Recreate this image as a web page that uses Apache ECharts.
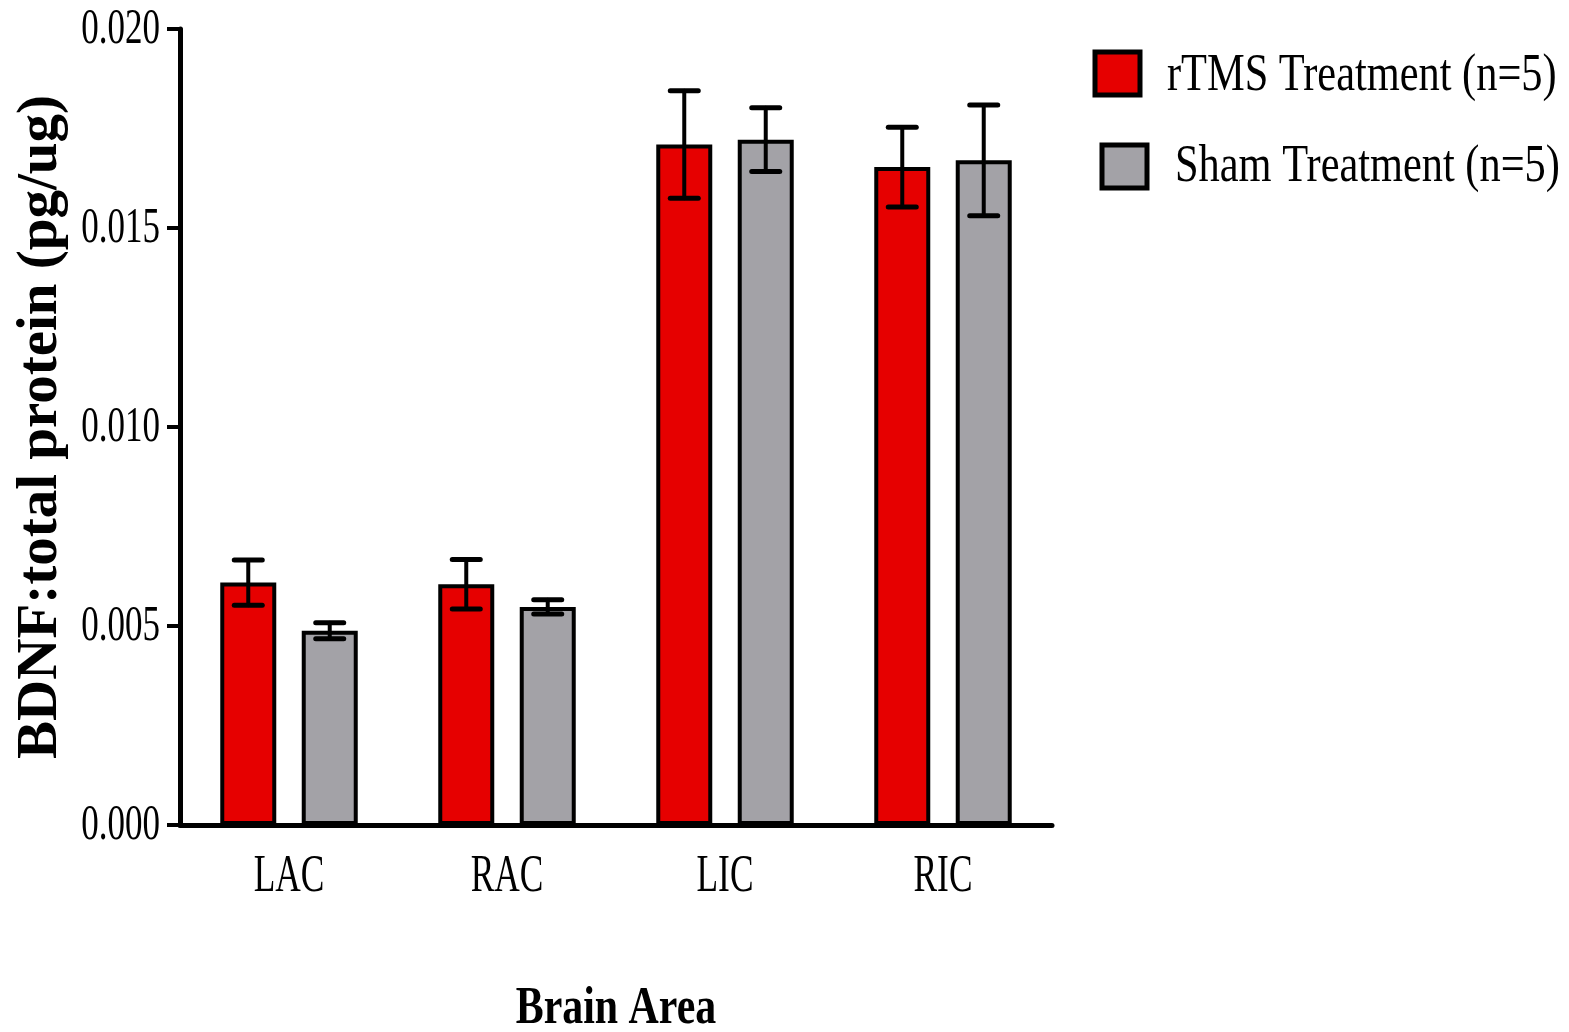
<!DOCTYPE html>
<html>
<head>
<meta charset="utf-8">
<script src="https://cdn.jsdelivr.net/npm/echarts@6/dist/echarts.min.js"></script>
<style>
  html, body { margin: 0; padding: 0; background: #fff; }
  #chart { width: 1569px; height: 1032px; }
</style>
</head>
<body>
<div id="chart"></div>
<script>
// BDNF : total protein by brain area, mean ± SEM
const categories = ['LAC', 'RAC', 'LIC', 'RIC'];
const seriesNames = ['rTMS Treatment (n=5)', 'Sham Treatment (n=5)'];
const rtmsMean = [0.00609, 0.00605, 0.01710, 0.01653];
const rtmsErr  = [0.00057, 0.00062, 0.00135, 0.00100];
const shamMean = [0.00488, 0.00548, 0.01722, 0.01670];
const shamErr  = [0.00020, 0.00018, 0.00080, 0.00139];
const yTicks = [0, 0.005, 0.010, 0.015, 0.020];
const xTitle = 'Brain Area';
const yTitle = 'BDNF:total protein (pg/ug)';

const RED = '#e60000';
const GRAY = '#a3a2a7';
const SERIF = '"Liberation Serif", "Times New Roman", serif';
const BAR_W = 56;
const BAR_GAP = 0.455;
const HALF_STEP = (BAR_W + BAR_W * BAR_GAP) / 2;

const chart = echarts.init(document.getElementById('chart'), null, { renderer: 'canvas' });

function errorSeries(name, means, errs, offset) {
  return {
    type: 'custom',
    name: name + ' SEM',
    z: 5,
    data: means.map((m, i) => [i, m, errs[i]]),
    renderItem: function (params, api) {
      const i = api.value(0), m = api.value(1), e = api.value(2);
      const top = api.coord([i, m + e]);
      const bot = api.coord([i, m - e]);
      const x = top[0] + offset;
      const cap = 14;
      const st = { stroke: '#000', lineWidth: 5, lineCap: 'round' };
      return {
        type: 'group',
        children: [
          { type: 'line', shape: { x1: x, y1: top[1], x2: x, y2: bot[1] }, style: Object.assign({}, st, { lineWidth: 4 }) },
          { type: 'line', shape: { x1: x - cap, y1: top[1], x2: x + cap, y2: top[1] }, style: st },
          { type: 'line', shape: { x1: x - cap, y1: bot[1], x2: x + cap, y2: bot[1] }, style: st }
        ]
      };
    }
  };
}

const option = {
  animation: false,
  backgroundColor: '#fff',
  grid: { left: 180, right: 517, top: 29, bottom: 207, containLabel: false },
  xAxis: {
    type: 'category',
    data: categories,
    axisLine: { lineStyle: { color: '#000', width: 5 } },
    axisTick: { alignWithLabel: true, length: 14, lineStyle: { color: '#000', width: 4 } },
    axisLabel: { show: false }
  },
  yAxis: {
    type: 'value',
    min: 0,
    max: 0.02,
    interval: 0.005,
    splitLine: { show: false },
    axisLine: { show: true, lineStyle: { color: '#000', width: 5 } },
    axisTick: { show: true, length: 13, lineStyle: { color: '#000', width: 4 } },
    axisLabel: { show: false },
    name: yTitle,
    nameLocation: 'middle',
    nameGap: 110,
    nameRotate: 90,
    nameTextStyle: { fontFamily: SERIF, fontWeight: 'bold', fontSize: 57, color: '#000' }
  },
  series: [
    {
      type: 'bar', name: seriesNames[0], data: rtmsMean,
      barWidth: BAR_W, barGap: (BAR_GAP * 100) + '%',
      itemStyle: { color: RED, borderColor: '#000', borderWidth: 4 }
    },
    {
      type: 'bar', name: seriesNames[1], data: shamMean,
      barWidth: BAR_W, barGap: (BAR_GAP * 100) + '%',
      itemStyle: { color: GRAY, borderColor: '#000', borderWidth: 4 }
    },
    errorSeries(seriesNames[0], rtmsMean, rtmsErr, -HALF_STEP),
    errorSeries(seriesNames[1], shamMean, shamErr, HALF_STEP)
  ]
};

chart.setOption(option);

// Condensed serif labels, placed through the chart's own scales
function condensed(text, x, y, opts) {
  return {
    type: 'text',
    x: x, y: y,
    scaleX: opts.scaleX,
    z: 10,
    style: {
      text: text, x: 0, y: 0,
      align: opts.align || 'center',
      verticalAlign: 'middle',
      fontFamily: SERIF,
      fontSize: opts.fontSize,
      fontWeight: opts.fontWeight || 'normal',
      fill: '#000'
    }
  };
}

const graphics = [];
yTicks.forEach(v => {
  const p = chart.convertToPixel({ gridIndex: 0 }, [0, v]);
  graphics.push(condensed(v.toFixed(3), 160, p[1] + 1, { fontSize: 50, scaleX: 0.70, align: 'right' }));
});
categories.forEach(c => {
  const p = chart.convertToPixel({ xAxisIndex: 0 }, c);
  graphics.push(condensed(c, p, 877, { fontSize: 52, scaleX: 0.68 }));
});
graphics.push(condensed(xTitle, 616, 1009, { fontSize: 53, scaleX: 0.79, fontWeight: 'bold' }));

// legend swatches and labels
const legendRows = [
  { name: seriesNames[0], color: RED, box: [1095, 52], textX: 1167, textY: 76 },
  { name: seriesNames[1], color: GRAY, box: [1102, 145], textX: 1175, textY: 167 }
];
legendRows.forEach(r => {
  graphics.push({
    type: 'rect', z: 10,
    shape: { x: r.box[0], y: r.box[1], width: 45, height: 43 },
    style: { fill: r.color, stroke: '#000', lineWidth: 5 }
  });
  graphics.push(condensed(r.name, r.textX, r.textY, { fontSize: 52, scaleX: 0.815, align: 'left' }));
});

chart.setOption({ graphic: graphics });
</script>
</body>
</html>
